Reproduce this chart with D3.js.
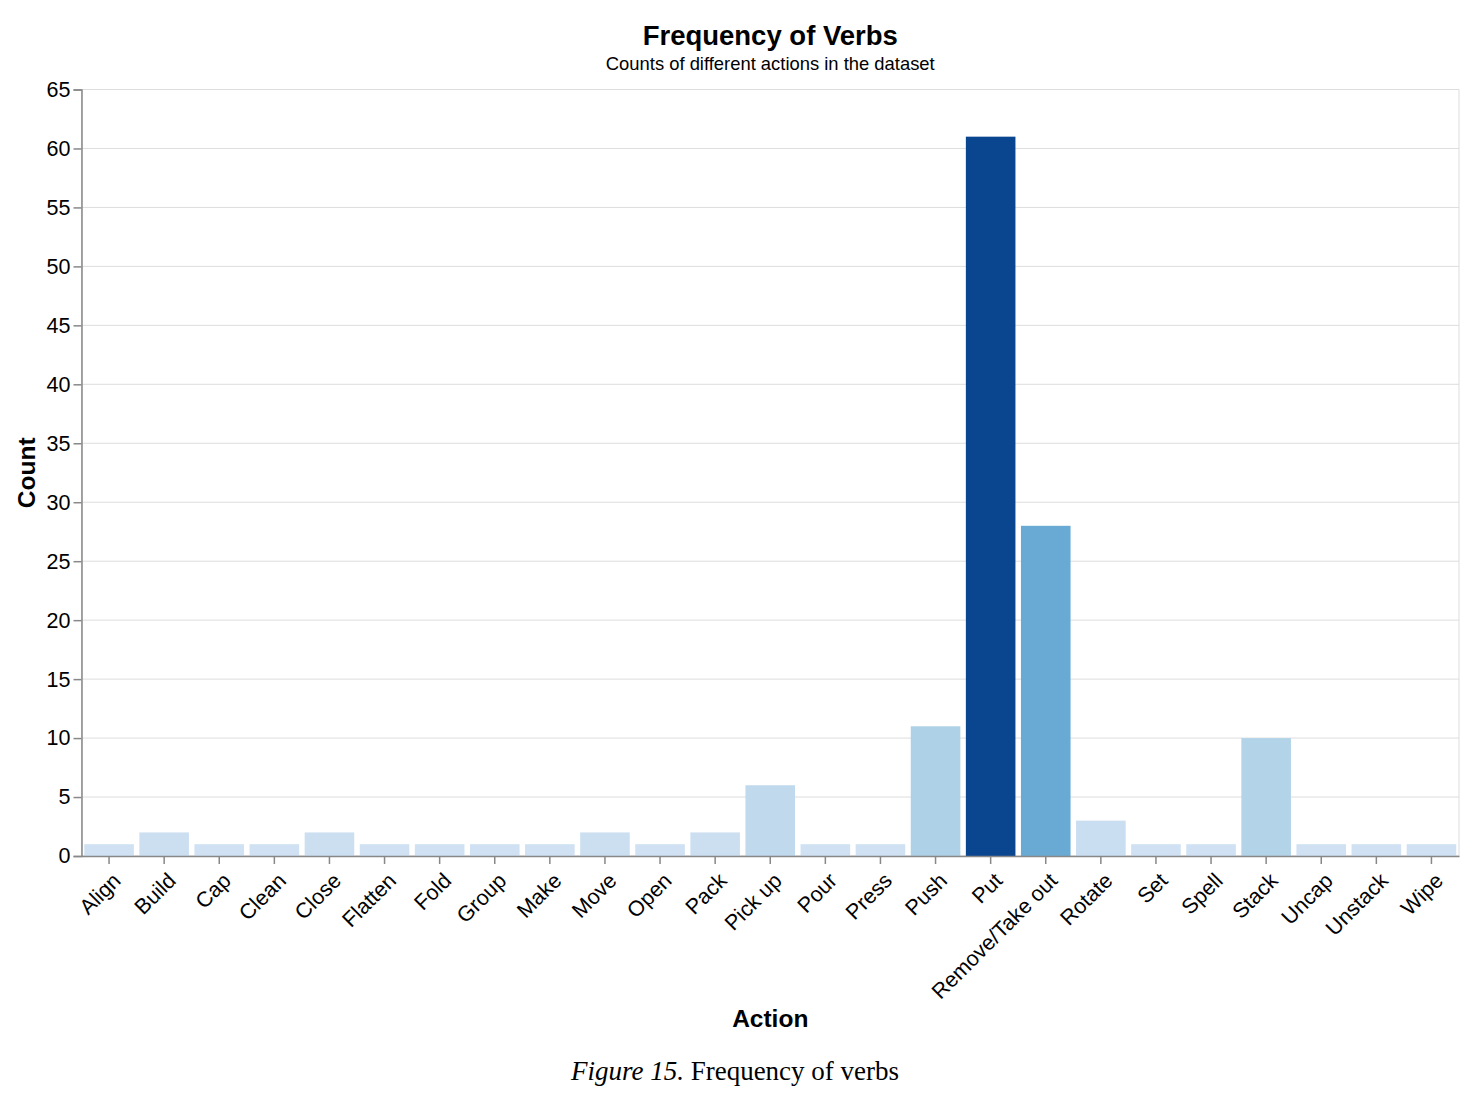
<!DOCTYPE html>
<html>
<head>
<meta charset="utf-8">
<script src="https://cdn.jsdelivr.net/npm/d3@7"></script>
<style>
  body { margin: 0; background: #fff; }
  svg { display: block; }
</style>
</head>
<body>
<svg id="chart" width="1481" height="1102"></svg>
<script>
const categories = ["Align","Build","Cap","Clean","Close","Flatten","Fold","Group","Make","Move","Open","Pack","Pick up","Pour","Press","Push","Put","Remove/Take out","Rotate","Set","Spell","Stack","Uncap","Unstack","Wipe"];
const counts = [1,2,1,1,2,1,1,1,1,2,1,2,6,1,1,11,61,28,3,1,1,10,1,1,1];
const yTicks = [0,5,10,15,20,25,30,35,40,45,50,55,60,65];
const blues = ["#cfe1f2","#bed8ec","#a8cee5","#8fc1de","#74b2d7","#5ba3cf","#4592c6","#3181bd","#206fb2","#125ca4","#0a4690"];

const data = categories.map((c, i) => ({ action: c, count: counts[i] }));

const svg = d3.select("#chart");
const m = { left: 81.5, right: 1459, top: 89.5, bottom: 856 };
const font = "'Liberation Sans', Arial, Helvetica, sans-serif";

const x = d3.scaleBand().domain(categories).range([m.left, m.right]).paddingInner(0.1).paddingOuter(0.05);
const y = d3.scaleLinear().domain([0, 65]).range([m.bottom, m.top]);
const color = d3.scaleSequential(d3.interpolateRgbBasis(blues)).domain(d3.extent(counts));

// grid
svg.append("g")
  .selectAll("line").data(yTicks).join("line")
  .attr("x1", m.left).attr("x2", m.right)
  .attr("y1", d => y(d)).attr("y2", d => y(d))
  .attr("stroke", "#ddd").attr("stroke-width", 1);

// view border
svg.append("rect")
  .attr("x", m.left).attr("y", m.top)
  .attr("width", m.right - m.left).attr("height", m.bottom - m.top)
  .attr("fill", "none").attr("stroke", "#ddd");

// bars
svg.append("g").selectAll("rect").data(data).join("rect")
  .attr("x", d => x(d.action))
  .attr("width", x.bandwidth())
  .attr("y", d => y(d.count))
  .attr("height", d => y(0) - y(d.count))
  .attr("fill", d => color(d.count));

// y axis
const yAxis = svg.append("g").attr("transform", `translate(${m.left},0)`)
  .call(d3.axisLeft(y).tickValues(yTicks).tickSize(8).tickPadding(3));
yAxis.select(".domain").attr("stroke", "#888").attr("stroke-width", 1.5);
yAxis.selectAll(".tick line").attr("stroke", "#888").attr("stroke-width", 1.5);
yAxis.selectAll(".tick text").attr("font-family", font).attr("font-size", 21.5).attr("fill", "#000");

// x axis
const xAxis = svg.append("g").attr("transform", `translate(0,${m.bottom})`)
  .call(d3.axisBottom(x).tickSize(8).tickPadding(4).tickSizeOuter(0));
xAxis.select(".domain").attr("stroke", "#888").attr("stroke-width", 1.5);
xAxis.selectAll(".tick line").attr("stroke", "#888").attr("stroke-width", 1.5);
xAxis.selectAll(".tick text")
  .attr("font-family", font).attr("font-size", 21.5).attr("fill", "#000")
  .attr("text-anchor", "end")
  .attr("dy", null)
  .attr("transform", "translate(9,22) rotate(-45)")
  .attr("y", 0).attr("x", 0)
  .attr("dominant-baseline", "middle");

// titles
svg.append("text").attr("x", (m.left + m.right) / 2).attr("y", 45)
  .attr("text-anchor", "middle").attr("font-family", font).attr("font-weight", "bold")
  .attr("font-size", 27.5).text("Frequency of Verbs");
svg.append("text").attr("x", (m.left + m.right) / 2).attr("y", 70)
  .attr("text-anchor", "middle").attr("font-family", font)
  .attr("font-size", 18.4).text("Counts of different actions in the dataset");

svg.append("text").attr("x", (m.left + m.right) / 2).attr("y", 1027)
  .attr("text-anchor", "middle").attr("font-family", font).attr("font-weight", "bold")
  .attr("font-size", 24.5).text("Action");
svg.append("text").attr("transform", `translate(35,${(m.top + m.bottom) / 2}) rotate(-90)`)
  .attr("text-anchor", "middle").attr("font-family", font).attr("font-weight", "bold")
  .attr("font-size", 24.5).text("Count");

// caption
const cap = svg.append("text").attr("x", 735).attr("y", 1080)
  .attr("text-anchor", "middle").attr("font-family", "'Liberation Serif', 'Times New Roman', serif")
  .attr("font-size", 27);
cap.append("tspan").attr("font-style", "italic").text("Figure 15.");
cap.append("tspan").text(" Frequency of verbs");
</script>
</body>
</html>
